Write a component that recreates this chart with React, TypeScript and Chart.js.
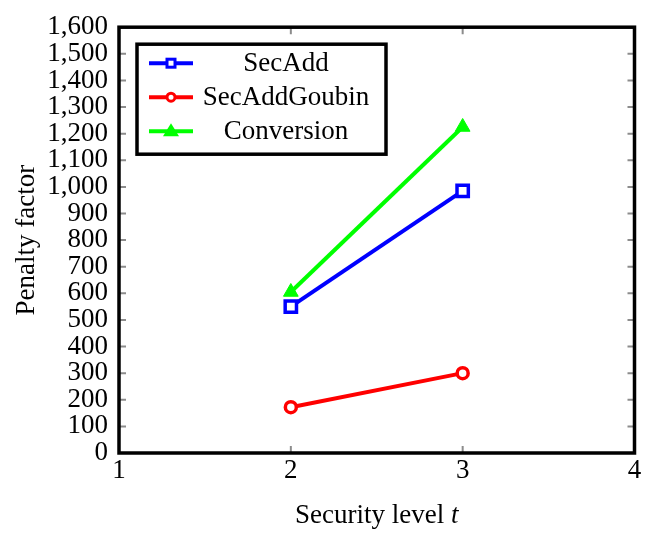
import React, { useEffect, useRef } from "react";
import { Chart, registerables } from "chart.js";

Chart.register(...registerables);

const securityLevels = [2, 3];
const secAdd = [550, 985];
const secAddGoubin = [172, 300];
const conversion = [605, 1225];
const seriesNames = ["SecAdd", "SecAddGoubin", "Conversion"];
const xTicks = [1, 2, 3, 4];
const yMax = 1600;
const yStep = 100;

const FONT = "'Liberation Serif', 'DejaVu Serif', serif";
const FS = 27;

const toPoints = (ys: number[]) => securityLevels.map((x, i) => ({ x, y: ys[i] }));

const framePlugin = {
  id: "frame",
  beforeDatasetsDraw(chart: any) {
    const { ctx, chartArea: a, scales } = chart;
    ctx.save();
    ctx.strokeStyle = "#8c8c8c";
    ctx.lineWidth = 2;
    const tl = 7;
    for (let v = yStep; v < yMax; v += yStep) {
      const y = scales.y.getPixelForValue(v);
      ctx.beginPath();
      ctx.moveTo(a.left, y);
      ctx.lineTo(a.left + tl, y);
      ctx.moveTo(a.right, y);
      ctx.lineTo(a.right - tl, y);
      ctx.stroke();
    }
    for (const v of xTicks.slice(1, -1)) {
      const x = scales.x.getPixelForValue(v);
      ctx.beginPath();
      ctx.moveTo(x, a.bottom);
      ctx.lineTo(x, a.bottom - tl);
      ctx.moveTo(x, a.top);
      ctx.lineTo(x, a.top + tl);
      ctx.stroke();
    }
    ctx.restore();
  },
  afterDraw(chart: any) {
    const { ctx, chartArea: a } = chart;
    ctx.save();
    // plot frame
    ctx.strokeStyle = "#000";
    ctx.lineWidth = 3.5;
    ctx.strokeRect(a.left, a.top, a.right - a.left, a.bottom - a.top);

    // axis titles
    ctx.fillStyle = "#000";
    ctx.font = `${FS}px ${FONT}`;
    ctx.textBaseline = "middle";
    ctx.textAlign = "center";
    ctx.save();
    ctx.translate(27, (a.top + a.bottom) / 2);
    ctx.rotate(-Math.PI / 2);
    ctx.fillText("Penalty factor", 0, 0);
    ctx.restore();

    const main = "Security level ";
    ctx.font = `${FS}px ${FONT}`;
    const w1 = ctx.measureText(main).width;
    ctx.font = `italic ${FS}px ${FONT}`;
    const w2 = ctx.measureText("t").width;
    const cx = (a.left + a.right) / 2;
    const startX = cx - (w1 + w2) / 2;
    ctx.textAlign = "left";
    ctx.font = `${FS}px ${FONT}`;
    ctx.fillText(main, startX, 516);
    ctx.font = `italic ${FS}px ${FONT}`;
    ctx.fillText("t", startX + w1, 516);

    // legend
    const bx = a.left + 18;
    const by = a.top + 17;
    const bw = 249;
    const bh = 110;
    ctx.fillStyle = "#fff";
    ctx.fillRect(bx, by, bw, bh);
    ctx.lineWidth = 3.5;
    ctx.strokeStyle = "#000";
    ctx.strokeRect(bx, by, bw, bh);
    chart.data.datasets.forEach((ds: any, i: number) => {
      const y = by + 19 + i * 34;
      ctx.strokeStyle = ds.borderColor;
      ctx.lineWidth = 4;
      ctx.beginPath();
      ctx.moveTo(bx + 12, y);
      ctx.lineTo(bx + 56, y);
      ctx.stroke();
      const mx = bx + 34;
      ctx.fillStyle = ds.pointBackgroundColor;
      ctx.strokeStyle = ds.borderColor;
      ctx.lineWidth = 3;
      if (ds.pointStyle === "rect") {
        ctx.fillRect(mx - 4, y - 4, 8, 8);
        ctx.strokeRect(mx - 4, y - 4, 8, 8);
      } else if (ds.pointStyle === "circle") {
        ctx.beginPath();
        ctx.arc(mx, y, 4, 0, Math.PI * 2);
        ctx.fill();
        ctx.stroke();
      } else {
        ctx.beginPath();
        ctx.moveTo(mx, y - 8);
        ctx.lineTo(mx + 8, y + 5);
        ctx.lineTo(mx - 8, y + 5);
        ctx.closePath();
        ctx.fill();
      }
      ctx.fillStyle = "#000";
      ctx.font = `${FS}px ${FONT}`;
      ctx.textAlign = "center";
      ctx.textBaseline = "middle";
      ctx.fillText(ds.label, bx + 149, y + 1);
    });
    ctx.restore();
  },
};

export default function App() {
  const ref = useRef<HTMLCanvasElement>(null);
  useEffect(() => {
    document.body.style.margin = "0";
    const chart = new Chart(ref.current!, {
      type: "line",
      data: {
        datasets: [
          {
            label: seriesNames[0],
            data: toPoints(secAdd),
            borderColor: "#0000ff",
            backgroundColor: "#0000ff",
            borderWidth: 4,
            pointStyle: "rect",
            pointRadius: 8,
            pointBorderWidth: 3.5,
            pointBackgroundColor: "#ffffff",
          },
          {
            label: seriesNames[1],
            data: toPoints(secAddGoubin),
            borderColor: "#ff0000",
            backgroundColor: "#ff0000",
            borderWidth: 4,
            pointStyle: "circle",
            pointRadius: 5.5,
            pointBorderWidth: 3.5,
            pointBackgroundColor: "#ffffff",
          },
          {
            label: seriesNames[2],
            data: toPoints(conversion),
            borderColor: "#00ff00",
            backgroundColor: "#00ff00",
            borderWidth: 4,
            pointStyle: "triangle",
            pointRadius: 8.5,
            pointBorderWidth: 1,
            pointBackgroundColor: "#00ff00",
          },
        ],
      } as any,
      options: {
        animation: false,
        responsive: false,
        maintainAspectRatio: false,
        layout: { padding: { left: 0, right: 9, top: 22, bottom: 0 } },
        plugins: { legend: { display: false }, tooltip: { enabled: false } },
        scales: {
          x: {
            type: "linear",
            min: 1,
            max: 4,
            afterBuildTicks: (axis: any) => {
              axis.ticks = xTicks.map((v) => ({ value: v }));
            },
            afterFit: (axis: any) => {
              axis.height = 82;
            },
            grid: { display: false, drawTicks: false },
            border: { display: false },
            ticks: {
              font: { family: FONT, size: FS },
              color: "#000",
              padding: 2,
              maxRotation: 0,
              autoSkip: false,
            },
          },
          y: {
            type: "linear",
            min: 0,
            max: yMax,
            afterFit: (axis: any) => {
              axis.width = 119;
            },
            grid: { display: false, drawTicks: false },
            border: { display: false },
            ticks: {
              stepSize: yStep,
              autoSkip: false,
              font: { family: FONT, size: FS },
              color: "#000",
              padding: 11,
              callback: (v: any) => Number(v).toLocaleString("en-US"),
            },
          },
        },
      },
      plugins: [framePlugin],
    });
    return () => chart.destroy();
  }, []);
  return <canvas ref={ref} width={646} height={535} style={{ display: "block" }} />;
}
